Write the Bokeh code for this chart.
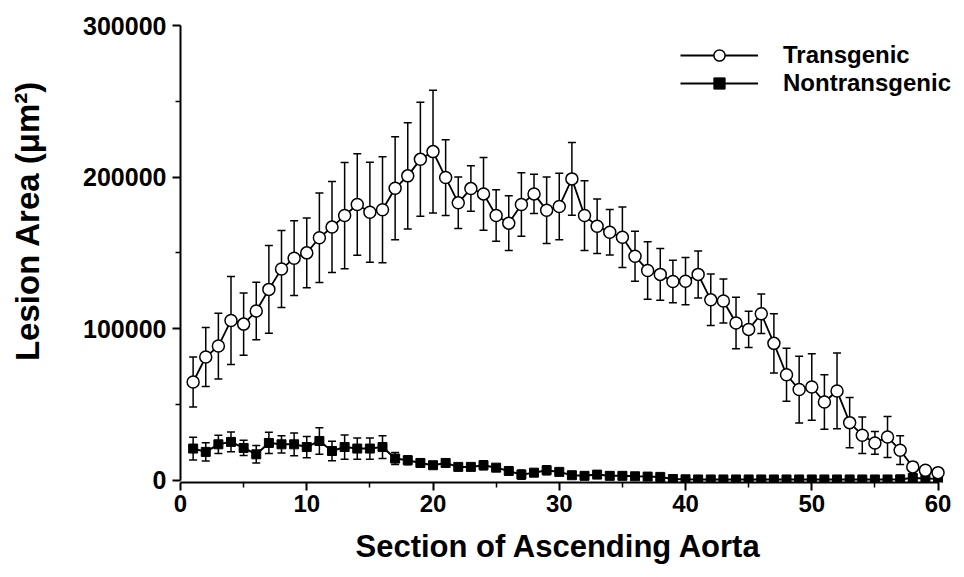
from bokeh.plotting import figure
from bokeh.models import (Range1d, FixedTicker, Whisker, TeeHead, ColumnDataSource,
                          Legend, LegendItem, LinearAxis, BasicTickFormatter, Title)
from bokeh.embed import file_html
from bokeh.resources import INLINE

# ---- data ----
sections = list(range(1, 61))
transgenic = [64.8, 81.3, 88.5, 105.4, 103.0, 111.6, 125.9, 139.3, 146.5, 150.0,
              160.0, 167.0, 174.6, 181.9, 176.8, 178.4, 192.6, 200.8, 211.7, 216.8,
              199.7, 183.0, 192.4, 188.9, 174.6, 169.6, 181.9, 188.9, 178.1, 180.6,
              198.8, 174.6, 167.6, 163.6, 160.3, 147.8, 138.4, 135.8, 131.1, 131.3,
              135.8, 119.0, 118.2, 103.7, 99.5, 109.8, 90.3, 69.6, 59.8, 61.5,
              51.6, 58.9, 38.0, 29.7, 24.6, 28.5, 19.8, 8.8, 6.6, 5.0]
transgenic_err = [16.5, 19.5, 21.7, 29.0, 20.6, 19.0, 29.0, 25.4, 24.7, 23.0,
                  29.5, 30.0, 35.0, 33.5, 33.0, 35.0, 34.0, 35.0, 37.6, 40.5,
                  25.0, 17.0, 15.0, 24.0, 17.0, 18.0, 21.0, 13.0, 22.0, 22.0,
                  24.0, 23.0, 18.0, 15.0, 20.0, 16.5, 19.0, 17.0, 14.0, 15.6,
                  15.5, 17.0, 14.5, 17.0, 12.0, 13.0, 19.5, 17.5, 22.0, 22.0,
                  18.0, 25.0, 16.5, 12.0, 7.5, 13.5, 9.5, 3.0, 2.0, 1.5]
nontransgenic = [20.9, 18.7, 23.7, 25.3, 21.3, 17.1, 24.6, 23.7, 23.7, 21.9,
                 25.9, 19.3, 21.9, 20.9, 20.9, 21.9, 14.3, 13.2, 11.4, 9.9,
                 11.4, 8.8, 8.8, 9.9, 8.3, 6.1, 3.7, 5.0, 6.6, 5.5,
                 3.3, 2.9, 3.7, 2.9, 2.9, 2.6, 2.4, 2.2, 0.8, 0.6,
                 0.5, 0.5, 0.5, 0.5, 0.5, 0.5, 0.5, 0.5, 0.5, 0.5,
                 0.5, 0.5, 0.5, 0.5, 0.5, 0.5, 0.6, 1.5, 1.2, 1.0]
nontransgenic_err = [7.5, 6.0, 6.0, 6.5, 5.0, 5.8, 7.0, 5.7, 7.5, 7.0,
                     8.8, 6.4, 8.0, 7.0, 7.0, 7.5, 4.0, 3.0, 2.5, 2.0,
                     2.0, 2.0, 2.0, 3.0, 2.0, 2.0, 3.0, 2.0, 3.0, 2.0,
                     1.0, 1.0, 1.0, 1.0, 1.0, 1.0, 1.0, 1.0, 1.0, 1.0,
                     1.0, 1.0, 1.0, 1.0, 1.0, 1.0, 1.0, 1.0, 1.0, 1.0,
                     1.0, 1.0, 1.0, 1.0, 1.0, 1.0, 1.0, 1.0, 1.0, 1.0]
x_ticks = [0, 10, 20, 30, 40, 50, 60]
x_minor = [5, 15, 25, 35, 45, 55]
y_ticks = [0, 100000, 200000, 300000]
y_minor = [50000, 150000, 250000]
x_title = "Section of Ascending Aorta"
y_title = "Lesion Area (\u03bcm\u00b2)"
series_names = ["Transgenic", "Nontransgenic"]

FONT = "Liberation Sans"

def src(vals, errs):
    v = [a * 1000 for a in vals]
    e = [a * 1000 for a in errs]
    return ColumnDataSource(dict(x=sections, y=v,
                                 upper=[a + b for a, b in zip(v, e)],
                                 lower=[a - b for a, b in zip(v, e)]))

s_t = src(transgenic, transgenic_err)
s_n = src(nontransgenic, nontransgenic_err)

p = figure(width=962, height=577, output_backend="svg", toolbar_location=None,
           x_range=Range1d(0, 61.7), y_range=Range1d(-1500, 300000),
           min_border_left=180, min_border_right=3, min_border_top=25,
           min_border_bottom=95)
p.outline_line_color = None
p.grid.visible = False
p.background_fill_color = "white"

for ax in (p.xaxis[0], p.yaxis[0]):
    ax.axis_line_width = 2
    ax.major_tick_line_width = 2
    ax.minor_tick_line_width = 1.5
    ax.major_tick_out = 8
    ax.major_tick_in = 0
    ax.minor_tick_out = 5
    ax.minor_tick_in = 0
    ax.major_label_text_font = FONT
    ax.major_label_text_font_style = "bold"
    ax.major_label_text_color = "black"

p.xaxis.major_label_text_font_size = "24px"
p.yaxis.major_label_text_font_size = "25px"
p.xaxis.ticker = FixedTicker(ticks=x_ticks, minor_ticks=x_minor)
p.yaxis.ticker = FixedTicker(ticks=y_ticks, minor_ticks=y_minor)
p.yaxis.formatter = BasicTickFormatter(use_scientific=False)
p.xaxis.bounds = (0, 60)
p.yaxis.bounds = (0, 300000)
p.xaxis.major_label_standoff = 4
p.yaxis.major_label_standoff = 6


def spacer(gap):
    # an empty axis used only to push the outer title away from the main axis
    return LinearAxis(ticker=FixedTicker(ticks=[]), axis_line_color=None,
                      major_tick_line_color=None, minor_tick_line_color=None,
                      major_tick_out=0, minor_tick_out=0, major_label_standoff=0,
                      axis_label=" ", axis_label_text_font_size="1px",
                      axis_label_standoff=gap)

p.add_layout(spacer(29), "left")
p.add_layout(Title(text=y_title, align="right", offset=55, vertical_align="top",
                   standoff=0, text_font=FONT, text_font_style="bold",
                   text_font_size="33px", text_color="black"), "left")

p.add_layout(spacer(10), "below")
p.add_layout(Title(text=x_title, align="left", offset=175, vertical_align="top",
                   standoff=0, text_font=FONT, text_font_style="bold",
                   text_font_size="31px", text_color="black"), "below")

head = dict(size=8, line_width=1.5, line_color="black")
p.add_layout(Whisker(source=s_t, base="x", upper="upper", lower="lower",
                     line_width=1.5, line_color="black",
                     upper_head=TeeHead(**head), lower_head=TeeHead(**head)))
p.add_layout(Whisker(source=s_n, base="x", upper="upper", lower="lower",
                     line_width=1.5, line_color="black",
                     upper_head=TeeHead(**head), lower_head=TeeHead(**head)))

l_n = p.line("x", "y", source=s_n, line_color="black", line_width=2)
m_n = p.scatter("x", "y", source=s_n, marker="square", size=9,
                fill_color="black", line_color="black")
l_t = p.line("x", "y", source=s_t, line_color="black", line_width=1.8)
m_t = p.scatter("x", "y", source=s_t, marker="circle", size=12,
                fill_color="white", line_color="black", line_width=1.5)

# one legend per row, so the rows can sit as close as in the reference
for name, rends, loc in ((series_names[0], [l_t, m_t], (500, 413)),
                         (series_names[1], [l_n, m_n], (500, 385))):
    p.add_layout(Legend(items=[LegendItem(label=name, renderers=rends)],
                        location=loc, glyph_width=78, glyph_height=28,
                        label_standoff=25, padding=0, margin=0, spacing=0,
                        border_line_alpha=0, background_fill_alpha=0,
                        label_text_font=FONT, label_text_font_style="bold",
                        label_text_font_size="24px", label_text_color="black"))

open("out.html", "w").write(file_html(p, INLINE))
